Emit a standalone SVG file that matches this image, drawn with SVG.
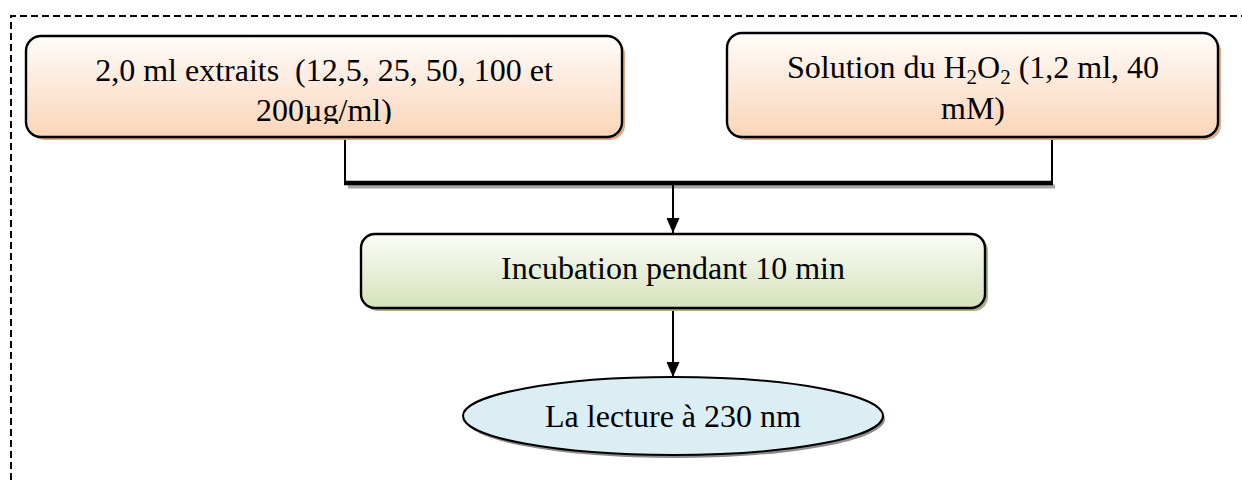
<svg xmlns="http://www.w3.org/2000/svg" width="1242" height="480" viewBox="0 0 1242 480">
<style>
text{font-family:"Liberation Serif","Times New Roman",serif;font-size:32px;fill:#000}
.box{stroke:#000;stroke-width:2.4}
.conn{stroke:#000;fill:none}
</style>
<defs>
<linearGradient id="gPeach" x1="0" y1="0" x2="0" y2="1">
<stop offset="0" stop-color="#fffcfa"/>
<stop offset="1" stop-color="#fad5b8"/>
</linearGradient>
<linearGradient id="gGreen" x1="0" y1="0" x2="0" y2="1">
<stop offset="0" stop-color="#fbfcf8"/>
<stop offset="1" stop-color="#d5e2ba"/>
</linearGradient>
<marker id="arr" viewBox="0 0 15 13" refX="15" refY="6.5" markerWidth="15" markerHeight="13" markerUnits="userSpaceOnUse" orient="auto">
<path d="M0,0 L15,6.5 L0,13 Z" fill="#000"/>
</marker>
<clipPath id="clip1"><rect x="26" y="36" width="596" height="88"/></clipPath>
</defs>
<rect width="1242" height="480" fill="#fff"/>
<path d="M11,480 V16 H1242" fill="none" stroke="#000" stroke-width="2" stroke-dasharray="7 4"/>

<g id="connectors">
<line x1="348" y1="186.5" x2="1055" y2="186.5" stroke="#a6a6a6" stroke-width="4"/>
<path class="conn" stroke-width="2" d="M345,139 V183"/>
<path class="conn" stroke-width="2" d="M1052,139 V183"/>
<line x1="344" y1="183" x2="1053" y2="183" stroke="#000" stroke-width="4.5"/>
<line x1="673" y1="185" x2="673" y2="233" stroke="#000" stroke-width="2" marker-end="url(#arr)"/>
<line x1="673" y1="309" x2="673" y2="377" stroke="#000" stroke-width="2" marker-end="url(#arr)"/>
</g>

<g id="node-extraits">
<rect x="29" y="39" width="596" height="101" rx="15" fill="#d8aa88"/>
<rect class="box" x="26" y="36" width="596" height="101" rx="15" fill="url(#gPeach)"/>
<g clip-path="url(#clip1)">
<text x="324" y="81" text-anchor="middle" xml:space="preserve">2,0 ml extraits  (12,5, 25, 50, 100 et</text>
<text x="324" y="121" text-anchor="middle">200µg/ml)</text>
</g>
</g>

<g id="node-h2o2">
<rect x="730" y="36" width="491" height="104" rx="15" fill="#d8aa88"/>
<rect class="box" x="727" y="33" width="491" height="104" rx="15" fill="url(#gPeach)"/>
<text x="973" y="78" text-anchor="middle">Solution du H<tspan font-size="21" dy="6">2</tspan><tspan dy="-6">O</tspan><tspan font-size="21" dy="6">2</tspan><tspan dy="-6"> (1,2 ml, 40</tspan></text>
<text x="973" y="119" text-anchor="middle">mM)</text>
</g>

<g id="node-incubation">
<rect x="364" y="237" width="624" height="74" rx="14" fill="#a7ae8a"/>
<rect class="box" x="361" y="234" width="624" height="74" rx="14" fill="url(#gGreen)"/>
<text x="673" y="279" text-anchor="middle">Incubation pendant 10 min</text>
</g>

<g id="node-lecture">
<ellipse cx="675" cy="419" rx="210" ry="39" fill="#8c8c8c"/>
<ellipse cx="673" cy="416" rx="210" ry="39" fill="#daeef3" stroke="#000" stroke-width="2"/>
<text x="673" y="427" text-anchor="middle">La lecture à 230 nm</text>
</g>
</svg>
